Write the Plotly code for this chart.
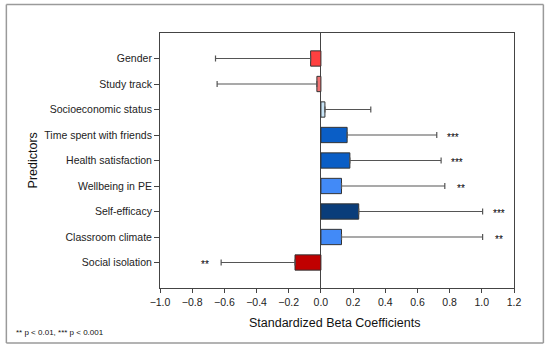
import plotly.graph_objects as go

predictors = ["Gender", "Study track", "Socioeconomic status", "Time spent with friends",
              "Health satisfaction", "Wellbeing in PE", "Self-efficacy", "Classroom climate",
              "Social isolation"]
beta = [-0.064, -0.025, 0.025, 0.163, 0.18, 0.128, 0.235, 0.128, -0.161]
ci_end = [-0.655, -0.645, 0.31, 0.72, 0.747, 0.77, 1.005, 1.005, -0.62]
stars = ["", "", "", "***", "***", "**", "***", "**", "**"]
colors = ["#FF4040", "#F07272", "#C8E4F6", "#0A5EC6", "#0A5EC6", "#428AF7", "#0A3D7A",
          "#428AF7", "#C00000"]

err_plus = [max(e - b, 0) for b, e in zip(beta, ci_end)]
err_minus = [max(b - e, 0) for b, e in zip(beta, ci_end)]

FONT = "Liberation Sans, Arial, sans-serif"

fig = go.Figure()
fig.add_trace(go.Bar(
    y=predictors, x=beta, orientation="h", width=0.6,
    marker=dict(color=colors, line=dict(color="#333333", width=1)),
    error_x=dict(type="data", symmetric=False, array=err_plus, arrayminus=err_minus,
                 color="#555555", thickness=1.2, width=3),
    showlegend=False, hoverinfo="x+y",
))

annotations = []
for p, e, s in zip(predictors, ci_end, stars):
    if s:
        xpos = e + 0.1 if e > 0 else e - 0.1
        annotations.append(dict(x=xpos, y=p, xref="x", yref="y", text=s, showarrow=False,
                                font=dict(family=FONT, size=10, color="#000000"), yshift=-2))

annotations += [
    dict(text="Predictors", x=-0.359, y=0.5, xref="paper", yref="paper", showarrow=False,
         xanchor="center", yanchor="middle", textangle=-90,
         font=dict(family=FONT, size=12.5, color="#111111")),
    dict(text="Standardized Beta Coefficients", x=0.493, y=-0.136, xref="paper", yref="paper",
         xanchor="center", yanchor="middle", showarrow=False,
         font=dict(family=FONT, size=12.5, color="#111111")),
    dict(text="** p < 0.01, *** p < 0.001", x=-0.413, y=-0.173, xref="paper", yref="paper",
         xanchor="left", yanchor="middle", showarrow=False,
         font=dict(family=FONT, size=8, color="#111111")),
]

bx0, bx1, by0, by1 = -0.434, 1.083, -0.2157, 1.112
border = dict(color="#9A9A9A", width=1.5)
shapes = [
    dict(type="line", xref="paper", yref="paper", x0=bx0, x1=bx1, y0=by1, y1=by1, line=border),
    dict(type="line", xref="paper", yref="paper", x0=bx0, x1=bx1, y0=by0, y1=by0, line=border),
    dict(type="line", xref="paper", yref="paper", x0=bx0, x1=bx0, y0=by0, y1=by1, line=border),
    dict(type="line", xref="paper", yref="paper", x0=bx1, x1=bx1, y0=by0, y1=by1, line=border),
]

fig.update_layout(
    width=550, height=348,
    margin=dict(l=160, r=36, t=33, b=60),
    paper_bgcolor="white", plot_bgcolor="white",
    font=dict(family=FONT, size=10, color="#222222"),
    annotations=annotations,
    shapes=shapes,
    bargap=0.4,
)
fig.update_xaxes(range=[-1.0, 1.2], tickvals=[-1.0, -0.8, -0.6, -0.4, -0.2, 0, 0.2, 0.4, 0.6, 0.8, 1.0, 1.2],
                 tickformat=".1f", ticks="outside", ticklen=4, tickcolor="#444444",
                 showline=True, linecolor="#444444", linewidth=1, mirror=True,
                 showgrid=False, zeroline=True, zerolinecolor="#444444", zerolinewidth=1,
                 tickfont=dict(family=FONT, size=10.5, color="#222222"))
fig.update_yaxes(categoryorder="array", categoryarray=predictors, range=[9, -1],
                 ticks="outside", ticklen=5, tickcolor="#444444",
                 showline=True, linecolor="#444444", linewidth=1, mirror=True,
                 showgrid=False, tickfont=dict(family=FONT, size=10.5, color="#222222"))

fig.write_html("out.html", config={"displayModeBar": False},
               post_script="document.body.style.margin='0';")
